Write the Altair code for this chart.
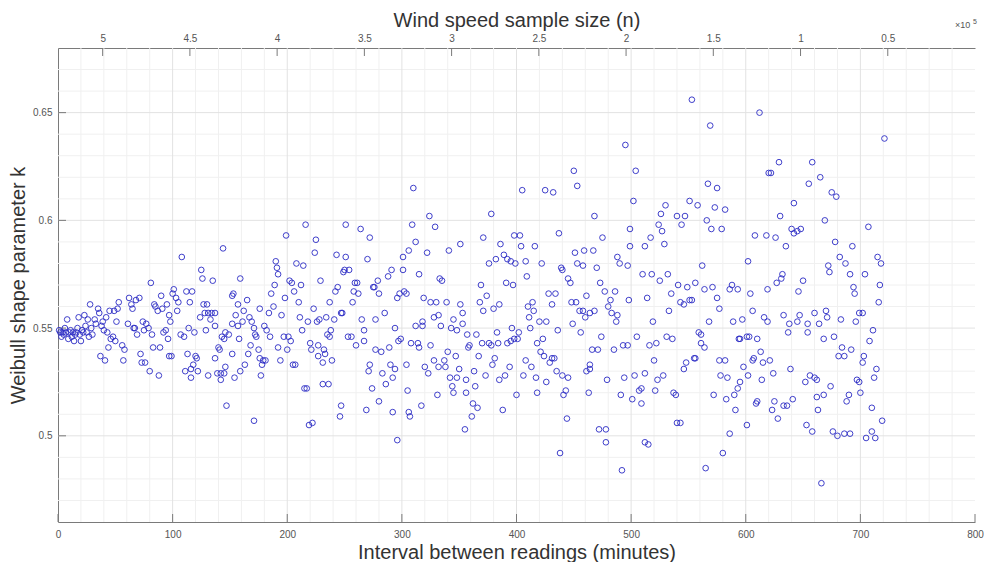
import altair as alt
import pandas as pd

# ---------------- data ----------------
# interval between readings (minutes) and the Weibull shape parameter k
seg1_interval = [2, 4, 7, 10, 13, 16, 19, 22, 3, 9, 14, 20, 17, 8, 18, 23, 26, 27, 25, 30,
                 29, 33, 32, 36, 35, 28, 39, 42, 38, 40, 43, 45, 49, 52, 53, 51, 48, 46, 50, 44,
                 37, 41, 56, 58, 57, 62, 64, 68, 71, 65, 61, 66, 67, 69, 74, 77, 79, 75, 72, 73,
                 76, 80, 81, 82, 84, 85, 87, 90, 91, 95, 97, 98, 94, 92, 96, 83, 89, 97, 99, 88,
                 101, 100, 103, 105, 104, 108, 112, 117, 115, 107, 110, 114, 119, 113, 120, 121, 118, 116, 122, 111,
                 116, 125, 126, 135, 127, 130, 128, 131, 134, 137, 124, 133, 137, 129, 144, 152, 153, 157, 155, 152,
                 146, 143, 145, 149, 158, 157, 159, 140, 141, 152, 137, 146, 142, 139, 145, 131, 142, 154, 147, 159,
                 1, 5, 11, 6, 12, 15, 21, 24]
seg1_k = [0.548, 0.548, 0.548, 0.548, 0.548, 0.548, 0.547, 0.548, 0.546, 0.545, 0.544, 0.544, 0.550, 0.554, 0.555, 0.556, 0.554, 0.546, 0.548, 0.547,
          0.550, 0.552, 0.554, 0.557, 0.559, 0.561, 0.553, 0.555, 0.551, 0.549, 0.548, 0.558, 0.558, 0.559, 0.562, 0.553, 0.546, 0.545, 0.544, 0.541,
          0.537, 0.535, 0.542, 0.540, 0.535, 0.564, 0.561, 0.563, 0.564, 0.559, 0.552, 0.550, 0.550, 0.547, 0.553, 0.552, 0.550, 0.549, 0.538, 0.534,
          0.534, 0.530, 0.571, 0.547, 0.561, 0.560, 0.558, 0.565, 0.559, 0.561, 0.556, 0.553, 0.549, 0.548, 0.545, 0.541, 0.541, 0.537, 0.537, 0.528,
          0.568, 0.566, 0.564, 0.562, 0.558, 0.583, 0.567, 0.567, 0.562, 0.547, 0.546, 0.550, 0.548, 0.538, 0.537, 0.536, 0.533, 0.531, 0.530, 0.530,
          0.527, 0.577, 0.573, 0.572, 0.561, 0.561, 0.557, 0.557, 0.557, 0.557, 0.555, 0.554, 0.551, 0.549, 0.587, 0.565, 0.566, 0.561, 0.556, 0.552,
          0.548, 0.546, 0.545, 0.547, 0.545, 0.551, 0.573, 0.541, 0.540, 0.538, 0.536, 0.532, 0.529, 0.529, 0.529, 0.528, 0.526, 0.527, 0.514, 0.530,
          0.549, 0.547, 0.549, 0.550, 0.546, 0.547, 0.549, 0.551]

seg2_interval = [165, 162, 161, 163, 166, 168, 169, 167, 171, 172, 173, 175, 176, 178, 179, 181, 177, 171, 176, 180,
                 182, 184, 185, 188, 186, 189, 190, 191, 192, 192, 194, 195, 197, 198, 199, 200, 201, 202, 204, 203,
                 205, 207, 206, 208, 210, 211, 212, 213, 214, 215, 217, 216, 218, 220, 221, 219, 222, 223, 224, 225,
                 226, 228, 229, 227, 227, 232, 233, 231, 231, 234, 236, 235, 237, 238, 239, 237, 241, 242, 243, 244,
                 247, 248, 247, 246, 249, 250, 251, 251, 253, 254, 256, 257, 258, 259, 261, 262, 260, 264, 265, 267,
                 267, 269, 270, 272, 272, 271, 274, 275, 276, 277, 277, 279, 280, 280, 282, 283, 285, 286, 288, 289,
                 290, 291, 292, 294, 292, 294, 296, 297, 299, 298, 301, 302, 304, 301, 304, 305, 306, 306, 307, 308,
                 309, 310, 312, 314, 315, 315, 317, 312, 318, 319, 318, 320, 296]
seg2_k = [0.563, 0.558, 0.553, 0.533, 0.538, 0.542, 0.553, 0.555, 0.550, 0.547, 0.546, 0.540, 0.536, 0.533, 0.535, 0.535, 0.528, 0.507, 0.559, 0.551,
          0.549, 0.557, 0.546, 0.560, 0.566, 0.570, 0.581, 0.578, 0.575, 0.541, 0.535, 0.556, 0.546, 0.564, 0.593, 0.540, 0.546, 0.572, 0.571, 0.544,
          0.533, 0.533, 0.567, 0.580, 0.562, 0.555, 0.570, 0.549, 0.579, 0.522, 0.522, 0.598, 0.553, 0.543, 0.540, 0.505, 0.506, 0.559, 0.585, 0.591,
          0.553, 0.554, 0.572, 0.542, 0.537, 0.540, 0.538, 0.534, 0.524, 0.555, 0.524, 0.547, 0.546, 0.549, 0.535, 0.562, 0.554, 0.567, 0.584, 0.569,
          0.557, 0.557, 0.514, 0.509, 0.576, 0.577, 0.598, 0.583, 0.546, 0.577, 0.546, 0.562, 0.567, 0.571, 0.571, 0.566, 0.542, 0.596, 0.554, 0.549,
          0.544, 0.512, 0.582, 0.592, 0.533, 0.530, 0.522, 0.569, 0.569, 0.554, 0.540, 0.572, 0.566, 0.516, 0.539, 0.529, 0.557, 0.524, 0.574, 0.541,
          0.533, 0.577, 0.527, 0.531, 0.511, 0.550, 0.564, 0.544, 0.545, 0.566, 0.577, 0.567, 0.566, 0.583, 0.533, 0.521, 0.586, 0.511, 0.509, 0.543,
          0.598, 0.615, 0.590, 0.543, 0.575, 0.541, 0.514, 0.551, 0.551, 0.564, 0.553, 0.532, 0.498]

seg3_interval = [324, 329, 322, 333, 335, 341, 351, 325, 330, 339, 332, 328, 325, 323, 328, 332, 337, 338, 334, 343,
                 345, 348, 351, 353, 353, 340, 347, 350, 342, 344, 348, 345, 331, 357, 359, 358, 365, 363, 367, 364,
                 356, 356, 362, 366, 361, 355, 369, 368, 371, 371, 374, 378, 380, 376, 382, 386, 385, 389, 391, 392,
                 395, 397, 399, 398, 403, 404, 409, 408, 416, 422, 370, 376, 378, 384, 383, 381, 379, 373, 385, 390,
                 388, 392, 395, 396, 398, 401, 402, 394, 400, 405, 408, 406, 410, 411, 412, 414, 415, 413, 417, 418,
                 421, 420, 423, 424, 426, 426, 418, 428, 431, 434, 436, 429, 431, 433, 435, 440, 445, 443, 441, 444,
                 438, 425, 432, 437, 439, 440, 445, 447, 450, 453, 451, 453, 458, 459, 467, 461, 470, 473, 448, 452,
                 455, 458, 460, 464, 468, 477, 449, 456, 474, 480, 466, 471, 461, 464, 464, 463, 475, 468, 472, 478,
                 478, 479]
seg3_k = [0.602, 0.597, 0.585, 0.573, 0.572, 0.586, 0.589, 0.562, 0.562, 0.562, 0.556, 0.555, 0.542, 0.529, 0.535, 0.532, 0.535, 0.532, 0.551, 0.550,
          0.554, 0.549, 0.561, 0.557, 0.552, 0.539, 0.537, 0.531, 0.527, 0.523, 0.527, 0.520, 0.519, 0.547, 0.542, 0.541, 0.547, 0.530, 0.537, 0.523,
          0.526, 0.520, 0.515, 0.513, 0.509, 0.503, 0.570, 0.562, 0.558, 0.592, 0.565, 0.603, 0.559, 0.580, 0.582, 0.589, 0.561, 0.584, 0.571, 0.582,
          0.581, 0.570, 0.580, 0.593, 0.593, 0.588, 0.574, 0.581, 0.588, 0.580, 0.543, 0.543, 0.542, 0.543, 0.548, 0.536, 0.533, 0.528, 0.526, 0.528,
          0.512, 0.543, 0.544, 0.550, 0.545, 0.545, 0.548, 0.532, 0.519, 0.614, 0.535, 0.528, 0.560, 0.555, 0.550, 0.562, 0.558, 0.532, 0.527, 0.543,
          0.539, 0.553, 0.545, 0.537, 0.553, 0.525, 0.520, 0.566, 0.561, 0.566, 0.549, 0.534, 0.536, 0.536, 0.530, 0.528, 0.527, 0.521, 0.519, 0.508,
          0.492, 0.614, 0.613, 0.594, 0.578, 0.577, 0.573, 0.571, 0.623, 0.616, 0.585, 0.580, 0.579, 0.586, 0.586, 0.565, 0.578, 0.571, 0.562, 0.562,
          0.558, 0.558, 0.555, 0.557, 0.558, 0.567, 0.552, 0.548, 0.546, 0.560, 0.540, 0.540, 0.530, 0.531, 0.533, 0.520, 0.592, 0.602, 0.503, 0.503,
          0.497, 0.526]

seg4_interval = [553, 612, 569, 495, 504, 629, 620, 622, 567, 575, 502, 530, 551, 558, 573, 582, 526, 540, 547, 544,
                 524, 527, 566, 570, 579, 499, 517, 529, 512, 499, 608, 618, 626, 630, 635, 640, 642, 488, 490, 497,
                 602, 562, 510, 518, 532, 525, 632, 631, 627, 541, 549, 556, 564, 571, 588, 586, 593, 604, 619, 486,
                 482, 498, 514, 535, 543, 546, 551, 553, 575, 577, 483, 488, 487, 533, 519, 568, 589, 597, 606, 616,
                 619, 633, 638, 637, 505, 531, 536, 559, 561, 561, 564, 594, 595, 601, 603, 610, 485, 493, 497, 516,
                 522, 520, 555, 556, 548, 546, 577, 582, 613, 606, 607, 598, 615, 621, 624, 639, 494, 503, 512, 523,
                 528, 614, 602, 595, 578, 584, 593, 590, 583, 572, 537, 539, 521, 507, 509, 491, 501, 509, 591, 609,
                 610, 623, 625, 633, 636, 641, 628, 601, 586, 540, 543, 512, 515, 580, 492, 565]
seg4_k = [0.656, 0.650, 0.644, 0.635, 0.623, 0.627, 0.622, 0.622, 0.617, 0.615, 0.609, 0.607, 0.609, 0.607, 0.606, 0.605, 0.603, 0.602, 0.602, 0.598,
          0.598, 0.595, 0.600, 0.596, 0.596, 0.596, 0.592, 0.589, 0.588, 0.588, 0.593, 0.593, 0.592, 0.602, 0.588, 0.596, 0.594, 0.583, 0.580, 0.579,
          0.581, 0.579, 0.575, 0.575, 0.575, 0.572, 0.575, 0.573, 0.571, 0.570, 0.569, 0.571, 0.568, 0.569, 0.570, 0.568, 0.568, 0.566, 0.568, 0.567,
          0.563, 0.563, 0.564, 0.566, 0.562, 0.561, 0.563, 0.563, 0.564, 0.559, 0.557, 0.556, 0.553, 0.558, 0.553, 0.553, 0.553, 0.554, 0.558, 0.555,
          0.553, 0.556, 0.552, 0.548, 0.546, 0.546, 0.545, 0.548, 0.547, 0.543, 0.541, 0.545, 0.545, 0.546, 0.546, 0.545, 0.540, 0.542, 0.542, 0.542,
          0.543, 0.535, 0.536, 0.536, 0.534, 0.531, 0.535, 0.535, 0.539, 0.535, 0.536, 0.532, 0.534, 0.535, 0.529, 0.531, 0.527, 0.528, 0.529, 0.526,
          0.528, 0.526, 0.528, 0.525, 0.528, 0.527, 0.522, 0.519, 0.517, 0.519, 0.520, 0.519, 0.521, 0.521, 0.522, 0.519, 0.517, 0.515, 0.512, 0.515,
          0.516, 0.512, 0.516, 0.514, 0.514, 0.517, 0.508, 0.505, 0.501, 0.506, 0.506, 0.497, 0.496, 0.492, 0.484, 0.485]

seg5_interval = [721, 658, 665, 655, 675, 679, 642, 669, 645, 648, 707, 678, 693, 682, 687, 715, 718, 672, 673, 691,
                 704, 650, 646, 694, 695, 717, 716, 645, 647, 654, 654, 660, 664, 670, 671, 683, 696, 699, 702, 711,
                 668, 677, 684, 681, 686, 692, 708, 703, 702, 652, 656, 660, 662, 674, 697, 699, 714, 712, 663, 662,
                 668, 690, 688, 700, 710, 719, 653, 658, 676, 680, 686, 691, 705, 710, 713, 666]
seg5_k = [0.638, 0.627, 0.620, 0.617, 0.613, 0.611, 0.608, 0.600, 0.595, 0.596, 0.597, 0.590, 0.588, 0.583, 0.580, 0.583, 0.580, 0.579, 0.576, 0.575,
          0.575, 0.572, 0.567, 0.569, 0.566, 0.570, 0.562, 0.553, 0.556, 0.552, 0.548, 0.557, 0.552, 0.558, 0.555, 0.554, 0.553, 0.557, 0.557, 0.549,
          0.545, 0.546, 0.541, 0.537, 0.537, 0.540, 0.544, 0.537, 0.534, 0.525, 0.528, 0.527, 0.526, 0.523, 0.526, 0.525, 0.531, 0.527, 0.512, 0.518,
          0.519, 0.519, 0.516, 0.520, 0.513, 0.507, 0.505, 0.502, 0.502, 0.500, 0.501, 0.501, 0.499, 0.502, 0.499, 0.478]

# axis tick values
x_ticks = [0, 100, 200, 300, 400, 500, 600, 700, 800]
y_ticks = [0.5, 0.55, 0.6, 0.65]
n_ticks = [5, 4.5, 4, 3.5, 3, 2.5, 2, 1.5, 1, 0.5]   # x 10^5
x_grid_major = [100, 200, 300, 400, 500, 600, 700]
x_grid_minor = [v for v in range(20, 800, 20) if v % 100]
y_grid_minor = [round(0.46 + 0.01 * i, 2) for i in range(1, 22)
                if round(0.46 + 0.01 * i, 2) not in (0.5, 0.55, 0.6, 0.65)]

# ---------------- chart ----------------
W, H = 917, 474
FONT = "Liberation Sans"
AXIS_GRAY = "#7a7a7a"
LABEL_GRAY = "#555555"
TITLE_GRAY = "#333333"

points_df = pd.DataFrame({
    "interval": seg1_interval + seg2_interval + seg3_interval + seg4_interval + seg5_interval,
    "k": seg1_k + seg2_k + seg3_k + seg4_k + seg5_k,
})

xs = alt.Scale(domain=[0, 800], nice=False, zero=False)
ys = alt.Scale(domain=[0.46, 0.68], nice=False, zero=False)

x_axis = alt.Axis(values=x_ticks, format="d", title="Interval between readings (minutes)",
                  grid=False, ticks=False, tickSize=0, labelFlush=False,
                  domainColor=AXIS_GRAY, labelColor=LABEL_GRAY, labelFontSize=10,
                  labelPadding=7, titleFontSize=20, titleFontWeight="normal",
                  titleColor=TITLE_GRAY, titlePadding=3)
y_axis = alt.Axis(values=y_ticks, format="~g", title="Weibull shape parameter k",
                  grid=False, ticks=False, tickSize=0,
                  domainColor=AXIS_GRAY, labelColor=LABEL_GRAY, labelFontSize=10,
                  labelPadding=6, titleFontSize=20, titleFontWeight="normal",
                  titleColor=TITLE_GRAY, titlePadding=4)


def xenc(field):
    return alt.X(field, scale=xs, axis=x_axis, title="Interval between readings (minutes)")


def yenc(field):
    return alt.Y(field, scale=ys, axis=y_axis, title="Weibull shape parameter k")


minor_v = alt.Chart(pd.DataFrame({"gx": x_grid_minor})).mark_rule(color="#f0f0f0", strokeWidth=1).encode(
    x=xenc("gx:Q"))
minor_h = alt.Chart(pd.DataFrame({"gy": y_grid_minor})).mark_rule(color="#f0f0f0", strokeWidth=1).encode(
    y=yenc("gy:Q"))
major_v = alt.Chart(pd.DataFrame({"gx": x_grid_major})).mark_rule(color="#e2e2e2", strokeWidth=1).encode(
    x=xenc("gx:Q"))
major_h = alt.Chart(pd.DataFrame({"gy": y_ticks})).mark_rule(color="#e2e2e2", strokeWidth=1).encode(
    y=yenc("gy:Q"))

bottom_ticks = alt.Chart(pd.DataFrame({"tx": x_ticks})).mark_rule(color=AXIS_GRAY, strokeWidth=1).encode(
    x=xenc("tx:Q"), y=alt.value(H), y2=alt.value(H - 8))
left_ticks = alt.Chart(pd.DataFrame({"ty": y_ticks})).mark_rule(color=AXIS_GRAY, strokeWidth=1).encode(
    y=yenc("ty:Q"), x=alt.value(0), x2=alt.value(8))

points = alt.Chart(points_df).mark_point(
    shape="circle", filled=False, color="#2a2ac4", size=32, strokeWidth=0.9, opacity=1
).encode(x=xenc("interval:Q"), y=yenc("k:Q"))

main = alt.layer(minor_v, minor_h, major_v, major_h, bottom_ticks, left_ticks, points)

top = alt.Chart(pd.DataFrame({"n": n_ticks})).mark_rule(color=AXIS_GRAY, strokeWidth=1).encode(
    x=alt.X("n:Q", scale=alt.Scale(domain=[0, 5.256], reverse=True, nice=False, zero=False),
            axis=alt.Axis(orient="top", values=n_ticks, format="~g", title="Wind speed sample size (n)",
                          grid=False, ticks=False, tickSize=0, labelFlush=False,
                          domainColor=AXIS_GRAY, labelColor=LABEL_GRAY, labelFontSize=10,
                          labelPadding=5, titleFontSize=20, titleFontWeight="normal",
                          titleColor=TITLE_GRAY, titlePadding=3)),
    y=alt.value(0), y2=alt.value(8))

exp_base = alt.Chart(pd.DataFrame({"t": ["\u00d710"]})).mark_text(
    align="left", baseline="alphabetic", fontSize=9, color=LABEL_GRAY, font=FONT
).encode(text="t:N", x=alt.value(897), y=alt.value(-20))
exp_sup = alt.Chart(pd.DataFrame({"t": ["5"]})).mark_text(
    align="left", baseline="alphabetic", fontSize=7, color=LABEL_GRAY, font=FONT
).encode(text="t:N", x=alt.value(915), y=alt.value(-24))

chart = alt.layer(main, top, exp_base, exp_sup).resolve_scale(x="independent").properties(
    width=W, height=H,
    padding={"left": 50, "top": 40, "right": 9, "bottom": 40},
    autosize=alt.AutoSizeParams(type="none"),
    background="white",
).configure_view(strokeWidth=0).configure_axis(
    labelFont=FONT, titleFont=FONT
)

chart.save("out.html", embed_options={"renderer": "svg", "actions": False})
